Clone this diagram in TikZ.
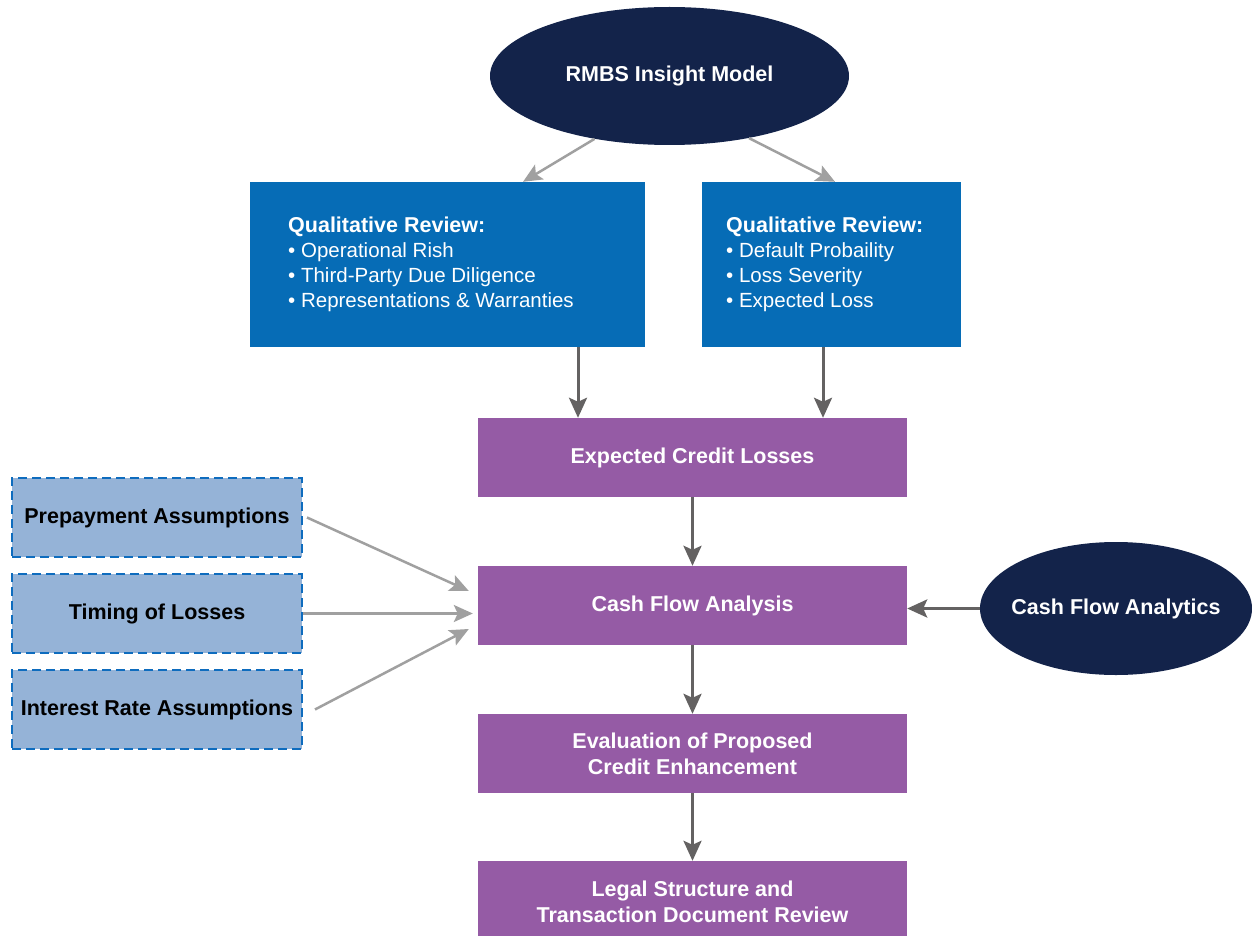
\documentclass[tikz,border=0pt]{standalone}
\usepackage{fontspec}
\setmainfont{Liberation Sans}
\usetikzlibrary{arrows.meta,shapes.geometric}
\definecolor{navy}{RGB}{19,35,74}
\definecolor{boxblue}{RGB}{6,108,182}
\definecolor{boxpurple}{RGB}{149,91,165}
\definecolor{dashfill}{RGB}{149,179,215}
\definecolor{dashline}{RGB}{14,108,190}
\definecolor{lightgray}{RGB}{160,160,160}
\definecolor{darkgray}{RGB}{100,98,98}
\begin{document}
\begin{tikzpicture}[x=1pt,y=-1pt,
  boldtxt/.style={font=\fontsize{21.5}{26}\selectfont\bfseries},
  ellnode/.style={ellipse, fill=navy, draw=none, text=white, boldtxt, inner sep=0},
  bluebox/.style={rectangle, fill=boxblue, draw=none, inner sep=0, minimum height=165},
  purplebox/.style={rectangle, fill=boxpurple, draw=none, text=white, boldtxt, align=center, inner sep=0, minimum width=429, minimum height=79},
  dashbox/.style={rectangle, fill=dashfill, draw=dashline, line width=2pt, dash pattern=on 9pt off 5pt, text=black, boldtxt, inner sep=0, minimum width=290, minimum height=79},
  lightarrow/.style={draw=lightgray, line width=2.5pt, -{Stealth[length=19pt,width=17pt,inset=4pt]}},
  darkarrow/.style={draw=darkgray, line width=3pt, -{Stealth[length=20pt,width=18pt,inset=4pt]}},
  bluetxt/.style={anchor=base west, text=white, inner sep=0}
]
\clip (0,0) rectangle (1252,936);
\fill[white] (0,0) rectangle (1252,936);

% ellipses
\node[ellnode, minimum width=359, minimum height=138] (rmbs) at (669.5,76) {\makebox[0pt]{RMBS Insight Model}};
\node[ellnode, minimum width=272, minimum height=133] (cfan) at (1116,608.5) {\makebox[0pt]{Cash Flow Analytics}};

% blue boxes
\node[bluebox, minimum width=395] (qr1) at (447.5,264.5) {};
\node[bluebox, minimum width=259] (qr2) at (831.5,264.5) {};
\node[bluetxt] (qr1txt) at (288,232) {\fontsize{20.5}{25.3}\selectfont\vtop{%
  \hbox{\fontsize{21.5}{25.3}\selectfont\bfseries Qualitative Review:}%
  \hbox{• Operational Rish}%
  \hbox{• Third-Party Due Diligence}%
  \hbox{• Representations \& Warranties}}};
\node[bluetxt] (qr2txt) at (726,232) {\fontsize{20.5}{25.3}\selectfont\vtop{%
  \hbox{\fontsize{21.5}{25.3}\selectfont\bfseries Qualitative Review:}%
  \hbox{• Default Probaility}%
  \hbox{• Loss Severity}%
  \hbox{• Expected Loss}}};

% purple boxes
\node[purplebox] (ecl) at (692.5,457.5) {Expected Credit Losses};
\node[purplebox] (cfa) at (692.5,605.5) {Cash Flow Analysis};
\node[purplebox] (eval) at (692.5,753.5) {Evaluation of Proposed\\Credit Enhancement};
\node[purplebox, minimum height=82] (legal) at (692.5,902) {Legal Structure and\\Transaction Document Review};

% dashed boxes
\node[dashbox] (pa) at (157,517.5) {Prepayment Assumptions};
\node[dashbox] (pb) at (157,613.5) {Timing of Losses};
\node[dashbox] (pc) at (157,709.5) {Interest Rate Assumptions};

% connectors
\draw[lightarrow] (rmbs.220) -- ([xshift=75.5]qr1.north);
\draw[lightarrow] (rmbs.322) -- ([xshift=3.5]qr2.north);
\draw[darkarrow] ([xshift=130.5]qr1.south) -- ([xshift=-114.5]ecl.north);
\draw[darkarrow] ([xshift=-8.5]qr2.south) -- ([xshift=130.5]ecl.north);
\draw[darkarrow] (ecl) -- (cfa);
\draw[darkarrow] (cfa) -- (eval);
\draw[darkarrow] (eval) -- (legal);
\draw[darkarrow] (cfan.west) -- (cfan.west -| cfa.east);
\draw[lightarrow] ([xshift=4]pa.east) -- ([xshift=-9,yshift=14.5]cfa.west);
\draw[lightarrow] (pb.east) -- ([xshift=-5,yshift=-8]cfa.west);
\draw[lightarrow] ([xshift=12]pc.east) -- ([xshift=-9,yshift=-23.5]cfa.west);
\end{tikzpicture}
\end{document}
